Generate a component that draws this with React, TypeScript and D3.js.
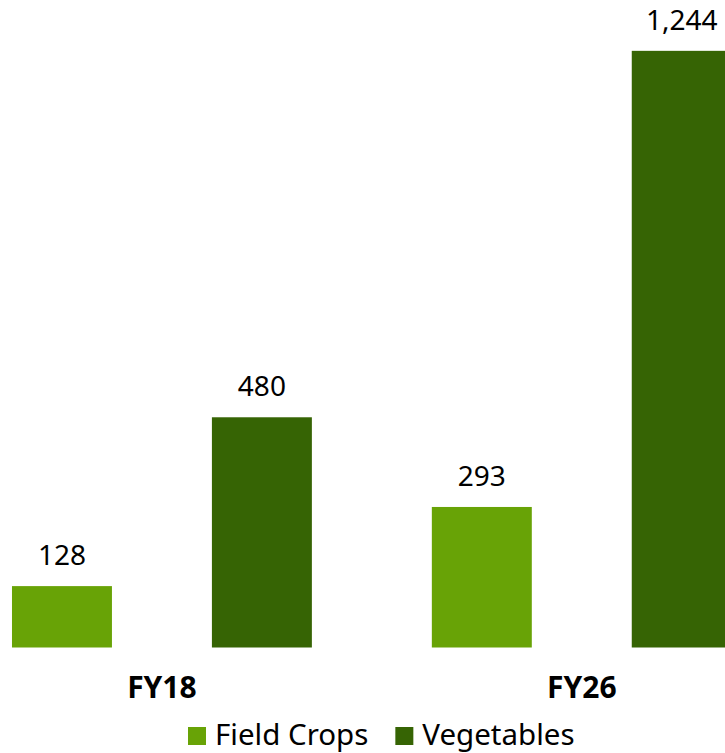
import React, { useEffect, useRef } from 'react'
import * as d3 from 'd3'

const years = ['FY18', 'FY26']
const seriesNames = ['Field Crops', 'Vegetables']
const fieldCrops = [128, 293]
const vegetables = [480, 1244]
const seriesColors = ['#68a306', '#366404']

export default function App() {
  const svgRef = useRef<SVGSVGElement>(null)

  useEffect(() => {
    const svg = d3.select(svgRef.current)
    svg.selectAll('*').remove()

    const width = 725
    const height = 753
    const font = '"Noto Sans", "Liberation Sans", sans-serif'

    svg.attr('width', width).attr('height', height).style('font-family', font)

    // groups (years) and bars inside each group
    const x0 = d3.scaleBand<string>()
      .domain(years)
      .range([-48, 791.7])
      .paddingInner(120 / 420)
      .paddingOuter(60 / 420)

    const x1 = d3.scaleBand<string>()
      .domain(seriesNames)
      .range([0, x0.bandwidth()])
      .paddingInner(0.5)

    const y = d3.scaleLinear().domain([0, 1350]).range([647.5, 0])

    const rows = years.map((yr, i) => ({
      year: yr,
      values: [
        { name: seriesNames[0], value: fieldCrops[i] },
        { name: seriesNames[1], value: vegetables[i] }
      ]
    }))

    const groups = svg.selectAll('g.grp')
      .data(rows)
      .join('g')
      .attr('class', 'grp')
      .attr('transform', d => `translate(${x0(d.year)},0)`)

    groups.selectAll('rect')
      .data(d => d.values)
      .join('rect')
      .attr('x', d => x1(d.name)!)
      .attr('y', d => y(d.value))
      .attr('width', x1.bandwidth())
      .attr('height', d => y(0) - y(d.value))
      .attr('fill', (d, i) => seriesColors[i])

    // value labels
    groups.selectAll('text.val')
      .data(d => d.values)
      .join('text')
      .attr('class', 'val')
      .attr('x', d => x1(d.name)! + x1.bandwidth() / 2)
      .attr('y', d => y(d.value) - 21)
      .attr('text-anchor', 'middle')
      .style('font-size', '28px')
      .style('fill', '#000')
      .text(d => d3.format(',')(d.value))

    // category labels
    svg.selectAll('text.cat')
      .data(years)
      .join('text')
      .attr('class', 'cat')
      .attr('x', d => x0(d)! + x0.bandwidth() / 2)
      .attr('y', 697.5)
      .attr('text-anchor', 'middle')
      .style('font-size', '30px')
      .style('font-weight', '700')
      .style('fill', '#000')
      .text(d => d)

    // legend
    const legend = svg.append('g').attr('transform', 'translate(188,0)')
    let lx = 0
    seriesNames.forEach((name, i) => {
      legend.append('rect')
        .attr('x', lx)
        .attr('y', 727)
        .attr('width', 18)
        .attr('height', 18)
        .attr('fill', seriesColors[i])
      const t = legend.append('text')
        .attr('x', lx + 27)
        .attr('y', 745)
        .style('font-size', '29.5px')
        .style('fill', '#000')
        .text(name)
      const w = (t.node() as SVGTextElement).getComputedTextLength()
      lx += 27 + w + 27
    })
  }, [])

  return (
    <div style={{ position: 'fixed', left: 0, top: 0, width: 725, height: 753, overflow: 'hidden', background: '#fff' }}>
      <svg ref={svgRef} />
    </div>
  )
}
